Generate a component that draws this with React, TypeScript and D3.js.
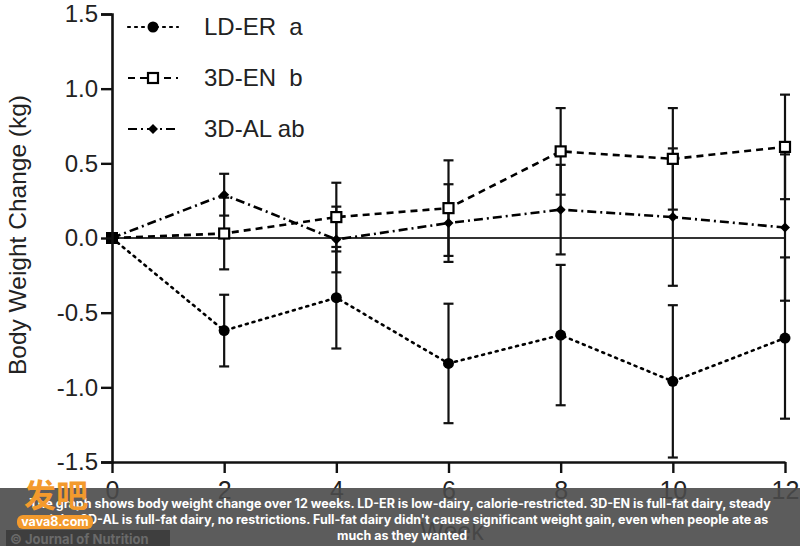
import * as React from 'react';
import {useEffect, useRef} from 'react';
import * as d3 from 'd3';

const weeks = [0, 2, 4, 6, 8, 10, 12];
const ldErMean = [0, -0.62, -0.40, -0.84, -0.65, -0.96, -0.67];
const ldErSem = [0, 0.24, 0.34, 0.40, 0.47, 0.51, 0.54];
const enMean = [0, 0.03, 0.14, 0.20, 0.58, 0.53, 0.61];
const enSem = [0, 0.24, 0.23, 0.32, 0.29, 0.34, 0.35];
const alMean = [0, 0.29, -0.01, 0.10, 0.19, 0.14, 0.07];
const alSem = [0, 0.14, 0.22, 0.26, 0.30, 0.46, 0.49];
const yTicks = [-1.5, -1.0, -0.5, 0.0, 0.5, 1.0, 1.5];
const legendLabels = ['LD-ER  a', '3D-EN  b', '3D-AL ab'];
const captionLines = [
    'The graph shows body weight change over 12 weeks. LD-ER is low-dairy, calorie-restricted. 3D-EN is full-fat dairy, steady',
    'weight. 3D-AL is full-fat dairy, no restrictions. Full-fat dairy didn\'t cause significant weight gain, even when people ate as',
    'much as they wanted'
];

const W = 800, H = 546;

const App = () => {
    const chartRef = useRef(null);

    useEffect(() => {
        const svg = d3.select(chartRef.current);
        svg.selectAll('*').remove();

        const x = d3.scaleLinear().domain([0, 12]).range([112, 785]);
        const y = d3.scaleLinear().domain([-1.5, 1.5]).range([462, 14]);
        const font = '"Liberation Sans", Arial, sans-serif';

        svg.append('rect').attr('width', W).attr('height', H).attr('fill', '#fff');

        // zero line
        svg.append('line')
            .attr('x1', x(0)).attr('x2', x(12))
            .attr('y1', y(0)).attr('y2', y(0))
            .attr('stroke', '#333').attr('stroke-width', 2);

        const series = [
            {name: legendLabels[0], mean: ldErMean, sem: ldErSem, dash: '2,5', shape: 'circle'},
            {name: legendLabels[1], mean: enMean, sem: enSem, dash: '7,5', shape: 'square'},
            {name: legendLabels[2], mean: alMean, sem: alSem, dash: '9,4,2,4', shape: 'diamond'}
        ];

        const drawMarker = (g, shape, cx, cy) => {
            if (shape === 'circle') {
                g.append('circle').attr('cx', cx).attr('cy', cy).attr('r', 5.5).attr('fill', '#000');
            } else if (shape === 'square') {
                g.append('rect').attr('x', cx - 5).attr('y', cy - 5).attr('width', 10).attr('height', 10)
                    .attr('fill', '#fff').attr('stroke', '#000').attr('stroke-width', 2.2);
            } else {
                g.append('path').attr('d', `M${cx},${cy - 5}L${cx + 5},${cy}L${cx},${cy + 5}L${cx - 5},${cy}Z`)
                    .attr('fill', '#000');
            }
        };

        // error bars
        series.forEach(s => {
            const g = svg.append('g').attr('stroke', '#111').attr('stroke-width', 2.2);
            weeks.forEach((w, i) => {
                if (s.sem[i] === 0) return;
                const top = y(s.mean[i] + s.sem[i]);
                const bot = y(s.mean[i] - s.sem[i]);
                g.append('line').attr('x1', x(w)).attr('x2', x(w)).attr('y1', top).attr('y2', bot);
                [top, bot].forEach(v => {
                    g.append('line').attr('x1', x(w) - 5).attr('x2', x(w) + 5).attr('y1', v).attr('y2', v);
                });
            });
        });

        const line = d3.line<number>()
            .x((d, i) => x(weeks[i]))
            .y(d => y(d));

        series.forEach(s => {
            svg.append('path')
                .attr('d', line(s.mean))
                .attr('fill', 'none')
                .attr('stroke', '#000')
                .attr('stroke-width', 2.6)
                .attr('stroke-dasharray', s.dash)
                .attr('stroke-linecap', s.shape === 'circle' ? 'round' : 'butt');
        });

        series.forEach(s => {
            const g = svg.append('g');
            weeks.forEach((w, i) => {
                if (i === 0) return;
                drawMarker(g, s.shape, x(w), y(s.mean[i]));
            });
        });

        // week 0: overlapping markers look like a filled square
        svg.append('rect').attr('x', x(0) - 6).attr('y', y(0) - 6).attr('width', 12).attr('height', 12).attr('fill', '#000');

        // axes
        const yAxis = svg.append('g')
            .attr('transform', `translate(${x(0)},0)`)
            .call(d3.axisLeft(y).tickValues(yTicks).tickSize(11).tickPadding(3)
                .tickFormat(d => d3.format('.1f')(d).replace('−', '-')));
        yAxis.select('.domain').attr('stroke-width', 2.6).attr('stroke', '#111');
        yAxis.selectAll('.tick line').attr('stroke-width', 2.4).attr('stroke', '#111');
        yAxis.selectAll('text').style('font-size', '24px').style('font-family', font).attr('fill', '#222');

        const xAxis = svg.append('g')
            .attr('transform', `translate(0,${y(-1.5)})`)
            .call(d3.axisBottom(x).tickValues(weeks).tickSize(11).tickPadding(8).tickSizeOuter(0));
        xAxis.select('.domain').attr('stroke-width', 2.6).attr('stroke', '#111');
        xAxis.selectAll('.tick line').attr('stroke-width', 2.4).attr('stroke', '#111');
        xAxis.selectAll('text').style('font-size', '25px').style('font-family', font).attr('fill', '#222');

        svg.append('text')
            .attr('transform', `translate(26,${y(0.02)}) rotate(-90)`)
            .style('text-anchor', 'middle')
            .style('font-size', '24.5px')
            .style('font-family', font)
            .attr('fill', '#222')
            .text('Body Weight Change (kg)');

        svg.append('text')
            .attr('x', 452).attr('y', 540)
            .style('text-anchor', 'middle')
            .style('font-size', '25px')
            .style('font-family', font)
            .attr('fill', '#222')
            .text('Week');

        // legend
        series.forEach((s, i) => {
            const ly = 27 + i * 51;
            svg.append('line')
                .attr('x1', 128).attr('x2', 178).attr('y1', ly).attr('y2', ly)
                .attr('stroke', '#000').attr('stroke-width', 2.2)
                .attr('stroke-dasharray', s.dash)
                .attr('stroke-linecap', s.shape === 'circle' ? 'round' : 'butt');
            const g = svg.append('g');
            drawMarker(g, s.shape, 153, ly);
            svg.append('text')
                .attr('x', 204).attr('y', ly + 8)
                .style('font-size', '24px')
                .style('font-family', font)
                .attr('fill', '#222')
                .style('white-space', 'pre')
                .text(s.name);
        });

        // caption overlay
        svg.append('rect')
            .attr('x', 0).attr('y', 488).attr('width', W).attr('height', H - 488)
            .attr('fill', '#4a4a4a').attr('opacity', 0.9);
        svg.append('rect')
            .attr('x', 6).attr('y', 530).attr('width', 164).attr('height', 16)
            .attr('fill', '#3e3e3e');
        svg.append('text')
            .attr('x', 10).attr('y', 544)
            .style('font-size', '13px').style('font-weight', 'bold')
            .style('font-family', 'Inter, sans-serif')
            .attr('fill', '#6a6a6a')
            .text('© Journal of Nutrition');

        captionLines.forEach((t, i) => {
            svg.append('text')
                .attr('x', i === 2 ? 337 : 400).attr('y', 508 + i * 16)
                .style('text-anchor', i === 2 ? 'start' : 'middle')
                .style('font-size', '12.5px').style('font-weight', 'bold')
                .style('font-family', 'Inter, "Open Sans", sans-serif')
                .attr('fill', '#fff')
                .text(t);
        });

        // site logo
        svg.append('text')
            .attr('x', 24).attr('y', 507)
            .style('font-size', '32px').style('font-weight', 'bold')
            .style('font-family', '"Noto Sans CJK SC", sans-serif')
            .attr('fill', '#f39a2d')
            .text('发吧');
        svg.append('rect')
            .attr('x', 17).attr('y', 515).attr('width', 76).attr('height', 14).attr('rx', 6)
            .attr('fill', '#f39a2d');
        svg.append('text')
            .attr('x', 55).attr('y', 526)
            .style('text-anchor', 'middle')
            .style('font-size', '12.5px').style('font-weight', 'bold')
            .style('font-family', 'Inter, sans-serif')
            .attr('fill', '#fff')
            .text('vava8.com');
    }, []);

    return (
        <svg ref={chartRef} width={W} height={H}
             style={{position: 'absolute', left: 0, top: 0, display: 'block'}}></svg>
    );
};

export default App;
